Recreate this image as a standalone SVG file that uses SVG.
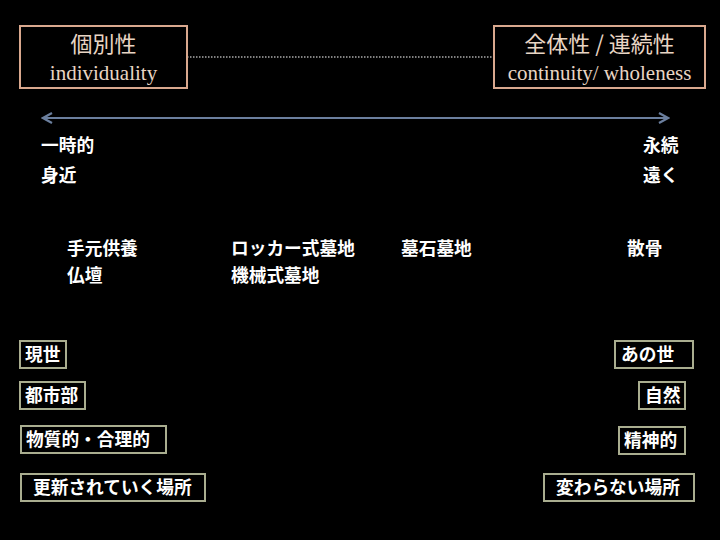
<svg xmlns="http://www.w3.org/2000/svg" width="720" height="540" viewBox="0 0 720 540">
<style>
.title{fill:none;stroke:#d9a88e;stroke-width:2}
.tj{font-family:"Noto Sans CJK JP","Noto Sans",sans-serif;font-size:22px;fill:#e8d5c4;text-anchor:middle}
.te{font-family:"Liberation Serif",serif;font-size:21px;fill:#e8d5c4;text-anchor:middle}
.lbl{font-family:"Noto Sans CJK JP",sans-serif;font-size:17.7px;fill:#ffffff;font-weight:bold}
.bx{fill:none;stroke:#a9ad8f;stroke-width:2}
.bt{font-family:"Noto Sans CJK JP",sans-serif;font-size:17.7px;fill:#ffffff;font-weight:bold}
</style>
<defs>
<marker id="ah" viewBox="0 0 12 12" refX="10" refY="6" markerWidth="12" markerHeight="12" markerUnits="userSpaceOnUse" orient="auto-start-reverse">
<path d="M1,1 L10,6 L1,11" fill="none" stroke="#6b7f9e" stroke-width="2.2"/>
</marker>
</defs>
<rect width="720" height="540" fill="#000"/>
<g id="connectors">
<line x1="187" y1="57" x2="493" y2="57" stroke="#aaaaaa" stroke-width="1.5" stroke-dasharray="1.5,1.5"/>
<line x1="43" y1="118" x2="668" y2="118" stroke="#6b7f9e" stroke-width="2" marker-start="url(#ah)" marker-end="url(#ah)"/>
</g>
<g id="individuality">
<rect class="title" x="20" y="26" width="167" height="62"/>
<text class="tj" x="103.5" y="52">個別性</text>
<text class="te" x="103.5" y="80">individuality</text>
</g>
<g id="continuity">
<rect class="title" x="494" y="26" width="211" height="62"/>
<text class="tj" x="599.5" y="52">全体性 / 連続性</text>
<text class="te" x="599.5" y="80">continuity/ wholeness</text>
</g>
<g id="left-labels">
<text class="lbl" x="41" y="152">一時的</text>
<text class="lbl" x="41" y="182">身近</text>
</g>
<g id="right-labels">
<text class="lbl" x="643" y="152">永続</text>
<text class="lbl" x="643" y="182">遠く</text>
</g>
<g id="temoto">
<text class="lbl" x="67" y="255">手元供養</text>
<text class="lbl" x="67" y="282">仏壇</text>
</g>
<g id="locker">
<text class="lbl" x="231" y="255">ロッカー式墓地</text>
<text class="lbl" x="231" y="282">機械式墓地</text>
</g>
<g id="boseki">
<text class="lbl" x="401" y="255">墓石墓地</text>
</g>
<g id="sankotsu">
<text class="lbl" x="627" y="255">散骨</text>
</g>
<g id="gense"><rect class="bx" x="20" y="341" width="46" height="27"/><text class="bt" x="25" y="361">現世</text></g>
<g id="toshibu"><rect class="bx" x="20" y="382" width="65" height="27"/><text class="bt" x="25" y="402">都市部</text></g>
<g id="busshitsu"><rect class="bx" x="21" y="426" width="145" height="27"/><text class="bt" x="26" y="446">物質的・合理的</text></g>
<g id="koshin"><rect class="bx" x="21" y="474" width="184" height="27"/><text class="bt" x="33" y="494">更新されていく場所</text></g>
<g id="anoyo"><rect class="bx" x="615" y="341" width="78" height="27"/><text class="bt" x="621" y="361">あの世</text></g>
<g id="shizen"><rect class="bx" x="639" y="382" width="46" height="27"/><text class="bt" x="645" y="402">自然</text></g>
<g id="seishin"><rect class="bx" x="619" y="427" width="66" height="27"/><text class="bt" x="624" y="447">精神的</text></g>
<g id="kawaranai"><rect class="bx" x="544" y="474" width="150" height="27"/><text class="bt" x="556" y="494">変わらない場所</text></g>
</svg>
